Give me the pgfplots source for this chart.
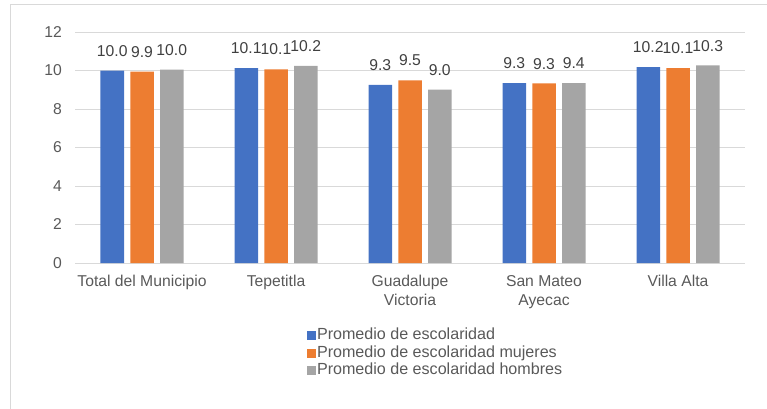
\documentclass[border=0pt]{standalone}
\usepackage{fontspec}
\setmainfont{Liberation Sans}
\usepackage{pgfplots}
\pgfplotsset{compat=1.18}
\pgfkeys{/pgf/number format/assume math mode=true}
\definecolor{cblue}{HTML}{4472C4}
\definecolor{corange}{HTML}{ED7D31}
\definecolor{cgray}{HTML}{A5A5A5}
\definecolor{gridc}{HTML}{D9D9D9}
\definecolor{txt}{HTML}{595959}
\definecolor{lbl}{HTML}{404040}
\newcommand\fs{\fontsize{15.7bp}{19bp}\selectfont}
\newcommand\lfs{\fontsize{16.1bp}{19bp}\selectfont}
\pgfplotsset{
  sq/.style={fill=#1, draw=none,
    legend image code/.code={\fill[#1] (0bp,-4.5bp) rectangle (9bp,4.5bp);}},
}

\begin{document}
\begin{tikzpicture}
\useasboundingbox (0,0) rectangle (767bp,-409bp);
\draw[gridc, line width=1.2bp] (10.5bp,-410bp) -- (10.5bp,-4.5bp) -- (768bp,-4.5bp);
\begin{axis}[
  at={(75bp,-263bp)}, anchor=south west,
  scale only axis, width=670bp, height=231bp,
  ybar=6.25bp, bar width=23.5bp,
  xmin=-0.5, xmax=4.5, ymin=0, ymax=12,
  xtick={0,...,4},
  xticklabels={Total del Municipio, Tepetitla, Guadalupe\\Victoria, San Mateo\\Ayecac, Villa Alta},
  ytick={0,2,...,12},
  ymajorgrids, grid style={gridc, line width=1bp},
  axis x line*=bottom, axis y line*=left,
  y axis line style={draw=none},
  x axis line style={gridc, line width=1bp},
  tick style={draw=none}, major tick length=0pt,
  ticklabel style={font=\fs, text=txt},
  xticklabel style={align=center, inner sep=0pt, yshift=-12bp},
  yticklabel style={inner sep=0pt, xshift=-13bp},
  nodes near coords={\pgfmathprintnumber[fixed,fixed zerofill,precision=1]{\pgfplotspointmeta}},
  every node near coord/.append style={font=\fs, text=lbl, anchor=south, inner sep=0pt, yshift=14bp},
  legend cell align=left,
  legend style={at={(axis description cs:0.346,-0.277)}, anchor=north west,
    draw=none, fill=none, inner sep=0pt, row sep=0.5bp,
    nodes={inner sep=1bp, text=txt, font=\lfs, text height=11.5bp, text depth=3.5bp}},
]
\addplot[sq=cblue] coordinates {(0,9.99) (1,10.13) (2,9.25) (3,9.34) (4,10.18)};
\addplot[sq=corange] coordinates {(0,9.94) (1,10.06) (2,9.49) (3,9.33) (4,10.13)};
\addplot[sq=cgray] coordinates {(0,10.04) (1,10.24) (2,9.01) (3,9.35) (4,10.26)};
\legend{Promedio de escolaridad, Promedio de escolaridad mujeres, Promedio de escolaridad hombres}
\end{axis}
\end{tikzpicture}
\end{document}
